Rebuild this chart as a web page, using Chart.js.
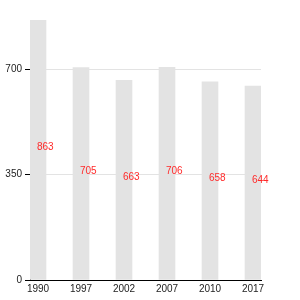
<!DOCTYPE html>
<html>
<head>
<meta charset="utf-8">
<script src="https://cdn.jsdelivr.net/npm/chart.js@4.4.1/dist/chart.umd.min.js"></script>
<style>
  html, body { margin: 0; padding: 0; background: #fff; }
  #wrap { width: 300px; height: 300px; }
</style>
</head>
<body>
<div id="wrap"><canvas id="chart" width="300" height="300"></canvas></div>
<script>
const years = ["1990", "1997", "2002", "2007", "2010", "2017"]
const values = [863, 705, 663, 706, 658, 644]
const yTicks = [0, 350, 700]

const barColor = "#e3e3e3"
const labelColor = "#ff2a2a"
const edgePad = 0.186 // half a bar, in category units

// red value labels, left edge at bar centre, baseline at half the bar height
const midLabels = {
  id: "midLabels",
  afterDatasetsDraw(chart) {
    const ctx = chart.ctx
    const yScale = chart.scales.y
    const meta = chart.getDatasetMeta(0)
    ctx.save()
    ctx.font = "10px 'Liberation Sans', Arial, sans-serif"
    ctx.fillStyle = labelColor
    ctx.textAlign = "left"
    ctx.textBaseline = "alphabetic"
    meta.data.forEach((bar, i) => {
      ctx.fillText(String(values[i]), bar.x - 1, yScale.getPixelForValue(values[i] / 2))
    })
    ctx.restore()
  },
}

new Chart(document.getElementById("chart"), {
  type: "bar",
  data: {
    datasets: [
      {
        data: values.map((v, i) => ({ x: i, y: v })),
        backgroundColor: barColor,
        borderWidth: 0,
        barThickness: 16,
      },
    ],
  },
  options: {
    responsive: false,
    animation: false,
    layout: { padding: { top: 20, right: 39, bottom: 0, left: 0 } },
    plugins: { legend: { display: false }, tooltip: { enabled: false } },
    scales: {
      x: {
        type: "linear",
        min: -edgePad,
        max: years.length - 1 + edgePad,
        offset: false,
        afterBuildTicks: (axis) => {
          axis.ticks = years.map((_, i) => ({ value: i }))
        },
        afterFit: (axis) => {
          axis.height = 20
        },
        grid: { display: false, drawTicks: false },
        border: { display: true, color: "#000", width: 1 },
        ticks: {
          padding: 3,
          color: "#222",
          font: { family: "'Liberation Sans', Arial, sans-serif", size: 10 },
          callback: (v) => years[v] ?? "",
          maxRotation: 0,
          autoSkip: false,
        },
      },
      y: {
        min: 0,
        max: Math.max(...values),
        afterBuildTicks: (axis) => {
          axis.ticks = yTicks.map((v) => ({ value: v }))
        },
        afterFit: (axis) => {
          axis.width = 30
        },
        grid: { color: "#e3e3e3", tickColor: "#000", tickLength: 5, drawTicks: true },
        border: { display: true, color: "#000", width: 1 },
        ticks: {
          padding: 3,
          color: "#222",
          font: { family: "'Liberation Sans', Arial, sans-serif", size: 10 },
        },
      },
    },
  },
  plugins: [midLabels],
})
</script>
</body>
</html>
